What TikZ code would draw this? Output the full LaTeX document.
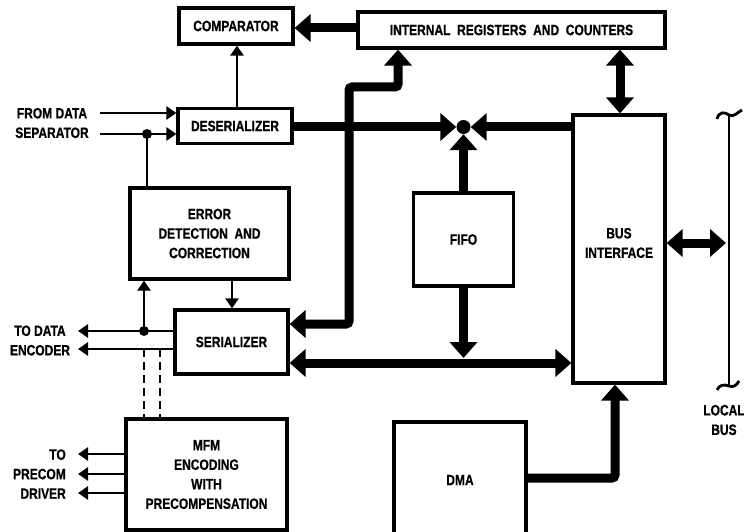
\documentclass[tikz,border=0pt]{standalone}
\usepackage{fontspec}
\setmainfont{Liberation Sans}[FakeStretch=0.8, BoldFeatures={FakeBold=0.6}]
\usetikzlibrary{arrows.meta}
\tikzset{
  blk/.style={draw, line width=3.2pt, minimum width=#1, inner sep=0pt, align=center},
  thin/.style={line width=2.8pt, -{Triangle[length=10pt,width=13pt]}},
  plain/.style={line width=2.8pt},
  bus/.style={line width=9pt, -{Triangle[length=16pt,width=27pt]}},
  bus2/.style={line width=9pt, {Triangle[length=16pt,width=27pt]}-{Triangle[length=16pt,width=27pt]}},
  lbl/.style={align=center, inner sep=0pt},
  jdot/.style={circle, fill, inner sep=0pt, minimum size=#1},
}
\begin{document}
\begin{tikzpicture}[x=1pt,y=-1pt, font=\fontsize{15}{19.5}\selectfont\bfseries]
\useasboundingbox (0,0) rectangle (744,532);
\clip (0,0) rectangle (744,532);
% blocks
\node[blk=114pt, minimum height=36pt] (comp) at (236,26) {COMPARATOR};
\node[blk=307pt, minimum height=36pt] (ireg) at (511.5,30) {INTERNAL\ \ REGISTERS\ \ AND\ \ COUNTERS};
\node[blk=114pt, minimum height=35pt] (deser) at (235,126) {DESERIALIZER};
\node[blk=159pt, minimum height=91pt] (err) at (209.5,233.5) {ERROR\\DETECTION\ \ AND\\CORRECTION};
\node[blk=113pt, minimum height=64pt] (ser) at (231.5,342) {SERIALIZER};
\node[blk=161pt, minimum height=111pt] (mfm) at (206.5,474.5) {MFM\\ENCODING\\WITH\\PRECOMPENSATION};
\node[blk=100pt, minimum height=93pt] (fifo) at (463.5,239.5) {FIFO};
\node[blk=92pt, minimum height=268pt, label={[lbl, yshift=6pt]center:BUS\\INTERFACE}] (busif) at (619,249) {};
\node[blk=132pt, minimum height=116pt] (dma) at (460,480) {DMA};
\node[jdot=14pt] (hub) at (463.5,127) {};
% text labels
\node[lbl] (fromds) at (52,123) {FROM DATA\\SEPARATOR};
\node[lbl] (todata) at (40,340.5) {TO DATA\\ENCODER};
\node[lbl, align=right, anchor=east] (toprecom) at (66,474) {TO\\PRECOM\\DRIVER};
\node[lbl] (localbus) at (724,420) {LOCAL\\BUS};
% free ends
\coordinate (in1) at (100,113);
\coordinate (in2) at (100,134);
\coordinate (out1) at (78,331);
\coordinate (out2) at (78,349);
\coordinate (pc1) at (78,454);
\coordinate (pc2) at (78,474);
\coordinate (pc3) at (78,493);
\coordinate (lbtop) at (729,115);
\coordinate (lbbot) at (729,386);
\node[jdot=10pt] (d1) at (147,134) {};
\node[jdot=10pt] (d2) at (144,331) {};
% thin connectors
\draw[thin] (in1) -- (deser.west |- in1);
\draw[thin] (in2) -- (deser.west |- in2);
\draw[plain] (d1.center) -- (err.north -| d1);
\draw[thin] (deser.north -| 237,0) -- (comp.south -| 237,0);
\draw[thin] (err.south -| 232,0) -- (ser.north -| 232,0);
\draw[thin] (ser.west |- out1) -- (out1);
\draw[thin] (ser.west |- out2) -- (out2);
\draw[thin] (d2.center) -- (err.south -| d2);
\draw[plain, dash pattern=on 8pt off 5pt] (144,349) -- (mfm.north -| 144,0);
\draw[plain, dash pattern=on 8pt off 5pt] (160,349) -- (mfm.north -| 160,0);
\draw[thin] (mfm.west |- pc1) -- (pc1);
\draw[thin] (mfm.west |- pc2) -- (pc2);
\draw[thin] (mfm.west |- pc3) -- (pc3);
% bus connectors
\draw[bus] (ireg.west |- 0,28) -- (comp.east |- 0,28);
\draw[bus] (deser.east |- hub) -- (hub);
\draw[bus] (busif.west |- hub) -- (hub);
\draw[bus] (fifo.north) -- (hub);
\draw[bus2, rounded corners=3pt] (ser.east |- 0,324) -- (349,324) -- (349,87) -- (398,87) -- (ireg.south -| 398,0);
\draw[bus2] (ser.east |- 0,363) -- (busif.west |- 0,363);
\draw[bus] (fifo.south) -- (463.5,358);
\draw[bus2] (ireg.south -| 620,0) -- (busif.north -| 620,0);
\draw[bus2] (busif.east |- 0,243) -- (726,243);
\draw[bus, rounded corners=3pt] (dma.east |- 0,478) -- (615,478) -- (busif.south -| 615,0);
% local bus
\draw[plain] (lbtop) -- (lbbot);
\draw[plain] (717,119) .. controls (719,111) and (725,112) .. (lbtop) .. controls (733,118) and (738,112) .. (742,110);
\draw[plain] (717,390) .. controls (719,385) and (724,384) .. (lbbot) .. controls (733,388) and (737,385) .. (739,381);
\end{tikzpicture}
\end{document}
